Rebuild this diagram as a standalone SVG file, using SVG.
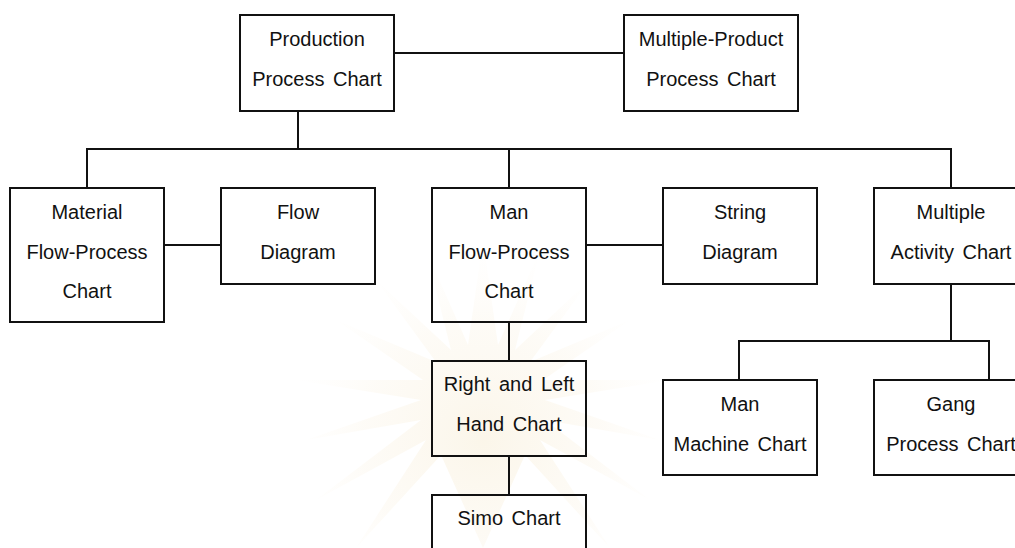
<svg xmlns="http://www.w3.org/2000/svg" width="1015" height="548" viewBox="0 0 1015 548">
  <style>
    .box { fill: none; stroke: #111; stroke-width: 2; }
    .wire { fill: none; stroke: #111; stroke-width: 2; }
    .lbl { font-family: "Liberation Sans", Arial, sans-serif; font-size: 20px; fill: #111; text-anchor: middle; word-spacing: 3px; }
  </style>
  <defs>
    <radialGradient id="glow" cx="483" cy="440" r="200" gradientUnits="userSpaceOnUse">
      <stop offset="0" stop-color="#f3e3bd" stop-opacity="0.55"/>
      <stop offset="0.6" stop-color="#f7ead0" stop-opacity="0.3"/>
      <stop offset="1" stop-color="#fdf7ea" stop-opacity="0"/>
    </radialGradient>
  </defs>
  <rect width="1015" height="548" fill="#fff"/>

  <!-- faint background emblem -->
  <g id="emblem" opacity="0.6">
    <polygon fill="url(#glow)" points="483,240 498,345 540,250 515,350 590,280 530,362 630,320 543,380 670,380 545,400 660,440 545,420 650,500 540,440 610,548 525,455 483,548 441,455 356,548 426,440 316,500 421,420 306,440 421,400 296,380 423,380 336,320 436,362 376,280 451,350 426,250 468,345"/>
  </g>

  <g id="connectors">
    <path class="wire" d="M394,53 H624"/>
    <path class="wire" d="M298,111 V149"/>
    <path class="wire" d="M87,188 V149 H951 V188"/>
    <path class="wire" d="M509,149 V188"/>
    <path class="wire" d="M164,245 H221"/>
    <path class="wire" d="M586,245 H663"/>
    <path class="wire" d="M509,322 V361"/>
    <path class="wire" d="M509,456 V495"/>
    <path class="wire" d="M951,284 V341"/>
    <path class="wire" d="M739,380 V341 H989 V380"/>
  </g>

  <g id="production">
    <rect class="box" x="240" y="15" width="154" height="96"/>
    <text class="lbl" x="317" y="46">Production</text>
    <text class="lbl" x="317" y="86">Process Chart</text>
  </g>
  <g id="multiple-product">
    <rect class="box" x="624" y="15" width="174" height="96"/>
    <text class="lbl" x="711" y="46">Multiple-Product</text>
    <text class="lbl" x="711" y="86">Process Chart</text>
  </g>
  <g id="material">
    <rect class="box" x="10" y="188" width="154" height="134"/>
    <text class="lbl" x="87" y="219">Material</text>
    <text class="lbl" x="87" y="259">Flow-Process</text>
    <text class="lbl" x="87" y="298">Chart</text>
  </g>
  <g id="flow-diagram">
    <rect class="box" x="221" y="188" width="154" height="96"/>
    <text class="lbl" x="298" y="219">Flow</text>
    <text class="lbl" x="298" y="259">Diagram</text>
  </g>
  <g id="man-flow">
    <rect class="box" x="432" y="188" width="154" height="134"/>
    <text class="lbl" x="509" y="219">Man</text>
    <text class="lbl" x="509" y="259">Flow-Process</text>
    <text class="lbl" x="509" y="298">Chart</text>
  </g>
  <g id="string-diagram">
    <rect class="box" x="663" y="188" width="154" height="96"/>
    <text class="lbl" x="740" y="219">String</text>
    <text class="lbl" x="740" y="259">Diagram</text>
  </g>
  <g id="multiple-activity">
    <rect class="box" x="874" y="188" width="154" height="96"/>
    <text class="lbl" x="951" y="219">Multiple</text>
    <text class="lbl" x="951" y="259">Activity Chart</text>
  </g>
  <g id="right-left-hand">
    <rect class="box" x="432" y="361" width="154" height="95"/>
    <text class="lbl" x="509" y="391">Right and Left</text>
    <text class="lbl" x="509" y="431">Hand Chart</text>
  </g>
  <g id="simo">
    <rect class="box" x="432" y="495" width="154" height="80"/>
    <text class="lbl" x="509" y="525">Simo Chart</text>
  </g>
  <g id="man-machine">
    <rect class="box" x="663" y="380" width="154" height="95"/>
    <text class="lbl" x="740" y="411">Man</text>
    <text class="lbl" x="740" y="451">Machine Chart</text>
  </g>
  <g id="gang">
    <rect class="box" x="874" y="380" width="154" height="95"/>
    <text class="lbl" x="951" y="411">Gang</text>
    <text class="lbl" x="951" y="451">Process Chart</text>
  </g>
</svg>
